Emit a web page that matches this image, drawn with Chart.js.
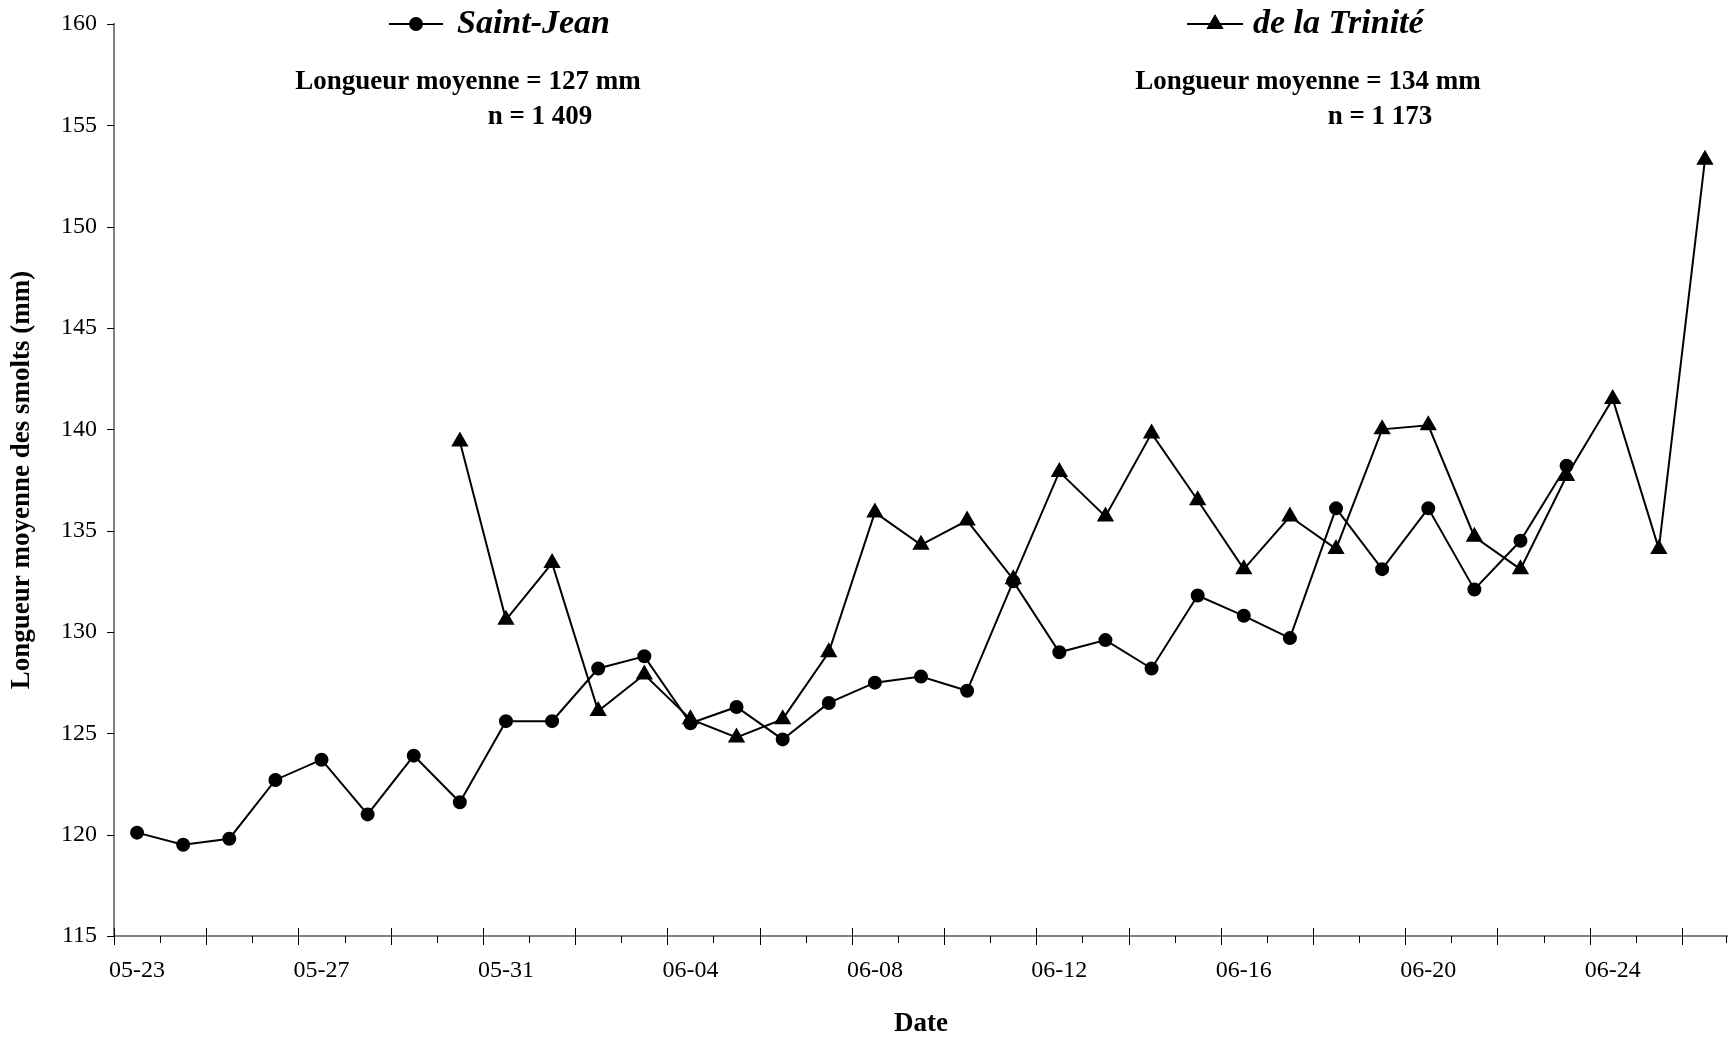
<!DOCTYPE html>
<html>
<head>
<meta charset="utf-8">
<script src="https://cdn.jsdelivr.net/npm/chart.js@4.4.0/dist/chart.umd.min.js"></script>
<style>
  body { margin: 0; background: #fff; }
  #wrap { width: 1728px; height: 1040px; }
</style>
</head>
<body>
<div id="wrap"><canvas id="smolts-grafica" width="1728" height="1040"></canvas></div>
<script>
const dates = ['05-23','05-24','05-25','05-26','05-27','05-28','05-29','05-30','05-31',
               '06-01','06-02','06-03','06-04','06-05','06-06','06-07','06-08','06-09',
               '06-10','06-11','06-12','06-13','06-14','06-15','06-16','06-17','06-18',
               '06-19','06-20','06-21','06-22','06-23','06-24','06-25','06-26'];
const shownDates = ['05-23','05-27','05-31','06-04','06-08','06-12','06-16','06-20','06-24'];

const saintJean = [120.1, 119.5, 119.8, 122.7, 123.7, 121.0, 123.9, 121.6, 125.6,
                   125.6, 128.2, 128.8, 125.5, 126.3, 124.7, 126.5, 127.5, 127.8,
                   127.1, 132.5, 129.0, 129.6, 128.2, 131.8, 130.8, 129.7, 136.1,
                   133.1, 136.1, 132.1, 134.5, 138.2, null, null, null];
const trinite = [null, null, null, null, null, null, null, 139.4, 130.6,
                 133.4, 126.1, 127.9, 125.7, 124.8, 125.7, 129.0, 135.9, 134.3,
                 135.5, 132.6, 137.9, 135.7, 139.8, 136.5, 133.1, 135.7, 134.1,
                 140.0, 140.2, 134.7, 133.1, 137.7, 141.5, 134.1, 153.3];

const saintJeanNotes = ['Longueur moyenne = 127 mm', 'n = 1 409'];
const triniteNotes = ['Longueur moyenne = 134 mm', 'n = 1 173'];

const serif = '"Liberation Serif", "Times New Roman", serif';

// marques d'axes, légende et annotations
const decor = {
    id: 'decor',
    afterDraw(chart){
        const {ctx, scales: {x, y}} = chart;
        ctx.save();
        ctx.strokeStyle = '#000';
        ctx.lineWidth = 1;

        const step = x.width / dates.length;
        for(let i = 0; i <= dates.length; i++){
            const px = Math.min(Math.round(x.left + i * step), chart.width - 2) + 0.5;
            const major = i % 2 === 0;
            ctx.beginPath();
            ctx.moveTo(px, y.bottom + (major ? -8 : 0));
            ctx.lineTo(px, y.bottom + (major ? 9 : 7));
            ctx.stroke();
        }
        y.ticks.forEach(t => {
            const py = Math.round(y.getPixelForValue(t.value)) + 0.5;
            ctx.beginPath();
            ctx.moveTo(x.left - 7, py);
            ctx.lineTo(x.left, py);
            ctx.stroke();
        });

        // légende
        const items = [
            {ds: chart.data.datasets[0], x0: 389, x1: 443, tx: 457},
            {ds: chart.data.datasets[1], x0: 1187, x1: 1243, tx: 1253}
        ];
        const ly = 24;
        items.forEach(it => {
            ctx.strokeStyle = '#000';
            ctx.fillStyle = '#000';
            ctx.lineWidth = 2;
            ctx.beginPath();
            ctx.moveTo(it.x0, ly);
            ctx.lineTo(it.x1, ly);
            ctx.stroke();
            Chart.helpers.drawPoint(ctx, {
                pointStyle: it.ds.pointStyle,
                radius: it.ds.pointRadius,
                rotation: 0,
                borderWidth: 1
            }, (it.x0 + it.x1) / 2, ly);
            ctx.font = 'italic bold 34px ' + serif;
            ctx.textAlign = 'left';
            ctx.textBaseline = 'middle';
            ctx.fillText(it.ds.label, it.tx, ly);
        });

        // annotations
        ctx.fillStyle = '#000';
        ctx.font = 'bold 27px ' + serif;
        ctx.textAlign = 'center';
        ctx.textBaseline = 'middle';
        ctx.fillText(saintJeanNotes[0], 468, 82);
        ctx.fillText(saintJeanNotes[1], 540, 117);
        ctx.fillText(triniteNotes[0], 1308, 82);
        ctx.fillText(triniteNotes[1], 1380, 117);
        ctx.restore();
    }
};

function noOverflow(s){
    s.paddingTop = 0;
    s.paddingBottom = 0;
    s.paddingLeft = 0;
    s.paddingRight = 0;
}

const ctx = document.getElementById('smolts-grafica');

new Chart(ctx, {
    type: 'line',
    data: {
        labels: dates,
        datasets: [{
            label: 'Saint-Jean',
            data: saintJean,
            borderColor: '#000',
            backgroundColor: '#000',
            borderWidth: 2,
            pointStyle: 'circle',
            pointRadius: 6,
            pointHoverRadius: 6,
            tension: 0
        }, {
            label: 'de la Trinité',
            data: trinite,
            borderColor: '#000',
            backgroundColor: '#000',
            borderWidth: 2,
            pointStyle: 'triangle',
            pointRadius: 8,
            pointHoverRadius: 8,
            tension: 0
        }]
    },
    options: {
        responsive: false,
        animation: false,
        layout: {
            autoPadding: false,
            padding: {top: 24, right: 0, bottom: 0, left: 6}
        },
        plugins: {
            legend: {display: false},
            tooltip: {enabled: false}
        },
        scales: {
            x: {
                offset: true,
                grid: {display: false, drawTicks: false, offset: true},
                border: {display: true, color: '#808080', width: 2},
                ticks: {
                    autoSkip: false,
                    maxRotation: 0,
                    color: '#000',
                    padding: 20,
                    font: {family: serif, size: 24},
                    callback: function(v, i){
                        return shownDates.includes(dates[i]) ? dates[i] : '';
                    }
                },
                title: {
                    display: true,
                    text: 'Date',
                    color: '#000',
                    padding: {top: 0, bottom: 0},
                    font: {family: serif, size: 27, weight: 'bold'}
                },
                afterFit: function(s){ s.height = 104; noOverflow(s); }
            },
            y: {
                min: 115,
                max: 160,
                grid: {display: false, drawTicks: false},
                border: {display: true, color: '#808080', width: 2},
                ticks: {
                    stepSize: 5,
                    color: '#000',
                    padding: 17,
                    font: {family: serif, size: 24}
                },
                title: {
                    display: true,
                    text: 'Longueur moyenne des smolts (mm)',
                    color: '#000',
                    padding: {top: 0, bottom: 0},
                    font: {family: serif, size: 27, weight: 'bold'}
                },
                afterFit: function(s){ s.width = 108; noOverflow(s); }
            }
        }
    },
    plugins: [decor]
});
</script>
</body>
</html>
